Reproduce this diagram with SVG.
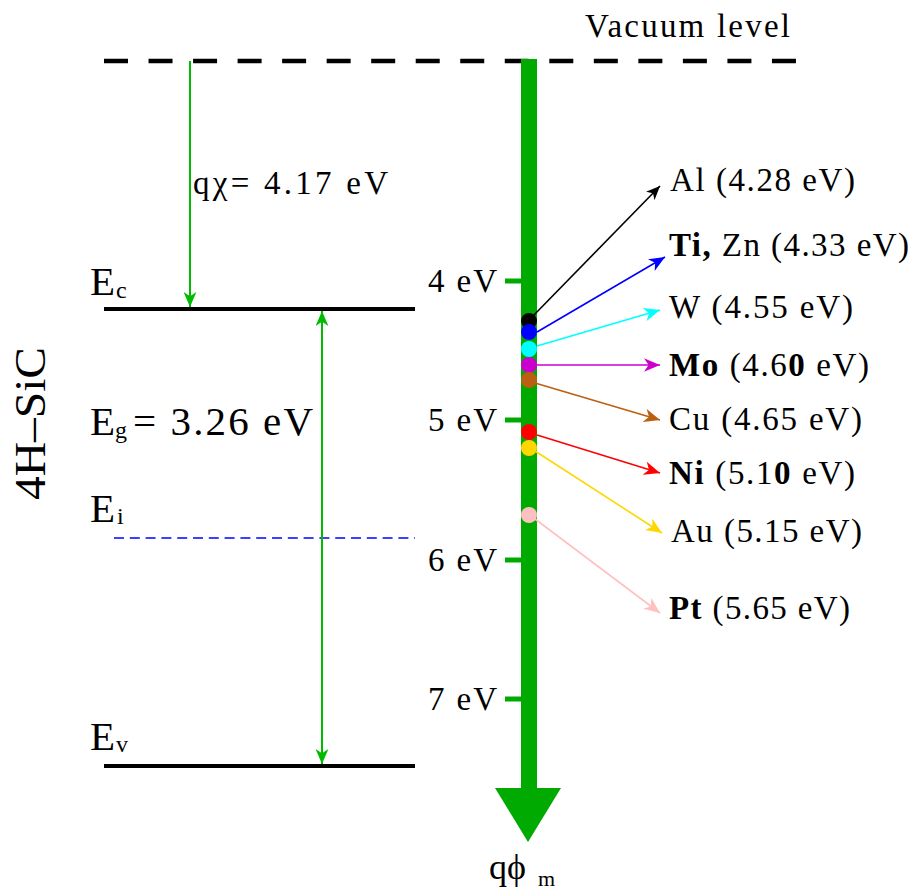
<svg xmlns="http://www.w3.org/2000/svg" width="911" height="890" viewBox="0 0 911 890">
<style>
  text { font-family: "Liberation Serif", "Times New Roman", serif; fill: #000; }
  .lbl { font-size: 33px; }
  .big { font-size: 41px; }
  .sub { font-size: 24px; }
  .b { font-weight: bold; }
  .level { stroke: #000; stroke-width: 4; fill: none; }
  .thin { stroke-width: 1.6; fill: none; }
  .g { stroke: #00bb00; stroke-width: 2; fill: none; }
  .tick { stroke: #00aa00; stroke-width: 5; }
</style>
<defs>
  <marker id="mg" viewBox="0 0 14 12" refX="14" refY="6" markerWidth="15" markerHeight="13" markerUnits="userSpaceOnUse" orient="auto-start-reverse"><path d="M0,0 L14,6 L0,12 L4,6 z" fill="#00bb00"/></marker>
  <marker id="mk" viewBox="0 0 14 12" refX="14" refY="6" markerWidth="14" markerHeight="12" markerUnits="userSpaceOnUse" orient="auto"><path d="M0,0 L14,6 L0,12 L4,6 z" fill="#000"/></marker>
  <marker id="mb" viewBox="0 0 14 12" refX="14" refY="6" markerWidth="16" markerHeight="14" markerUnits="userSpaceOnUse" orient="auto"><path d="M0,0 L14,6 L0,12 L4,6 z" fill="#0000ff"/></marker>
  <marker id="mc" viewBox="0 0 14 12" refX="14" refY="6" markerWidth="16" markerHeight="14" markerUnits="userSpaceOnUse" orient="auto"><path d="M0,0 L14,6 L0,12 L4,6 z" fill="#00ffff"/></marker>
  <marker id="mm" viewBox="0 0 14 12" refX="14" refY="6" markerWidth="16" markerHeight="14" markerUnits="userSpaceOnUse" orient="auto"><path d="M0,0 L14,6 L0,12 L4,6 z" fill="#cc00cc"/></marker>
  <marker id="mo" viewBox="0 0 14 12" refX="14" refY="6" markerWidth="16" markerHeight="14" markerUnits="userSpaceOnUse" orient="auto"><path d="M0,0 L14,6 L0,12 L4,6 z" fill="#bb6010"/></marker>
  <marker id="mr" viewBox="0 0 14 12" refX="14" refY="6" markerWidth="16" markerHeight="14" markerUnits="userSpaceOnUse" orient="auto"><path d="M0,0 L14,6 L0,12 L4,6 z" fill="#ff0000"/></marker>
  <marker id="my" viewBox="0 0 14 12" refX="14" refY="6" markerWidth="16" markerHeight="14" markerUnits="userSpaceOnUse" orient="auto"><path d="M0,0 L14,6 L0,12 L4,6 z" fill="#ffd700"/></marker>
  <marker id="mp" viewBox="0 0 14 12" refX="14" refY="6" markerWidth="16" markerHeight="14" markerUnits="userSpaceOnUse" orient="auto"><path d="M0,0 L14,6 L0,12 L4,6 z" fill="#ffc0c0"/></marker>
</defs>

<g id="vacuum">
  <line x1="104" y1="61" x2="796" y2="61" stroke="#000" stroke-width="4.5" stroke-dasharray="24 20.53"/>
  <text class="lbl" x="585" y="37" textLength="205" lengthAdjust="spacing">Vacuum level</text>
</g>

<g id="band-levels">
  <line class="level" x1="104" y1="309" x2="415" y2="309"/>
  <line class="level" x1="104" y1="766" x2="415" y2="766"/>
  <line x1="114" y1="538" x2="415" y2="538" stroke="#0000ff" stroke-width="1.6" stroke-dasharray="10 5.8"/>
  <text class="big" x="90" y="295">E<tspan class="sub" x="116" y="298">c</tspan></text>
  <text class="big" x="90" y="435">E<tspan class="sub" x="115" y="438">g</tspan><tspan x="133" y="435" textLength="180" lengthAdjust="spacing">= 3.26 eV</tspan></text>
  <text class="big" x="90" y="522">E<tspan class="sub" x="117" y="524">i</tspan></text>
  <text class="big" x="90" y="750">E<tspan class="sub" x="116" y="752">v</tspan></text>
  <text transform="translate(45,500) rotate(-90)" x="0" y="0" font-size="44" textLength="153" lengthAdjust="spacingAndGlyphs">4H–SiC</text>
  <text class="lbl" x="193" y="194" textLength="195" lengthAdjust="spacing">qχ= 4.17 eV</text>
</g>

<g id="scale">
  <rect x="521" y="59" width="16" height="732" fill="#00aa00"/>
  <polygon points="495,788 561,788 528,842" fill="#00aa00"/>
  <line class="tick" x1="505" y1="281" x2="522" y2="281"/>
  <line class="tick" x1="505" y1="420" x2="522" y2="420"/>
  <line class="tick" x1="505" y1="560" x2="522" y2="560"/>
  <line class="tick" x1="505" y1="699" x2="522" y2="699"/>
  <text class="lbl" x="428" y="292" textLength="69" lengthAdjust="spacing">4 eV</text>
  <text class="lbl" x="428" y="431" textLength="69" lengthAdjust="spacing">5 eV</text>
  <text class="lbl" x="428" y="571" textLength="69" lengthAdjust="spacing">6 eV</text>
  <text class="lbl" x="428" y="710" textLength="69" lengthAdjust="spacing">7 eV</text>
  <text x="489" y="879" font-size="36">qϕ<tspan x="538" y="886" font-size="22">m</tspan></text>
</g>

<g id="connectors">
  <line class="g" x1="190" y1="61" x2="190" y2="307" marker-end="url(#mg)"/>
  <line class="g" x1="322" y1="311" x2="322" y2="764" marker-start="url(#mg)" marker-end="url(#mg)"/>
  <line class="thin" stroke="#000" x1="533" y1="316" x2="660" y2="186" marker-end="url(#mk)"/>
  <line class="thin" stroke="#0000ff" x1="537" y1="332" x2="665" y2="257" marker-end="url(#mb)"/>
  <line class="thin" stroke="#00ffff" x1="537" y1="346" x2="660" y2="310" marker-end="url(#mc)"/>
  <line class="thin" stroke="#cc00cc" x1="537" y1="365" x2="660" y2="365" marker-end="url(#mm)"/>
  <line class="thin" stroke="#bb6010" x1="535" y1="383" x2="660" y2="420" marker-end="url(#mo)"/>
  <line class="thin" stroke="#ff0000" x1="537" y1="435" x2="660" y2="473" marker-end="url(#mr)"/>
  <line class="thin" stroke="#ffd700" x1="535" y1="451" x2="662" y2="533" marker-end="url(#my)"/>
  <line class="thin" stroke="#ffc0c0" x1="535" y1="519" x2="660" y2="613" marker-end="url(#mp)"/>
</g>

<g id="metal-Al"><circle cx="529" cy="321" r="8" fill="#000"/><text class="lbl" x="670" y="191" textLength="185" lengthAdjust="spacing">Al (4.28 eV)</text></g>
<g id="metal-TiZn"><circle cx="529" cy="332" r="8" fill="#0000ff"/><text class="lbl" x="669" y="256" textLength="240" lengthAdjust="spacing"><tspan class="b">Ti,</tspan> Zn (4.33 eV)</text></g>
<g id="metal-W"><circle cx="529" cy="349" r="8" fill="#00ffff"/><text class="lbl" x="669" y="318" textLength="184" lengthAdjust="spacing">W (4.55 eV)</text></g>
<g id="metal-Mo"><circle cx="529" cy="365" r="8" fill="#cc00cc"/><text class="lbl" x="669" y="376" textLength="200" lengthAdjust="spacing"><tspan class="b">Mo</tspan> (4.6<tspan class="b">0</tspan> eV)</text></g>
<g id="metal-Cu"><circle cx="529" cy="380" r="8" fill="#bb6010"/><text class="lbl" x="669" y="430" textLength="193" lengthAdjust="spacing">Cu (4.65 eV)</text></g>
<g id="metal-Ni"><circle cx="529" cy="432" r="8" fill="#ff0000"/><text class="lbl" x="669" y="484" textLength="186" lengthAdjust="spacing"><tspan class="b">Ni</tspan> (5.1<tspan class="b">0</tspan> eV)</text></g>
<g id="metal-Au"><circle cx="529" cy="448" r="8" fill="#ffd700"/><text class="lbl" x="671" y="542" textLength="191" lengthAdjust="spacing">Au (5.15 eV)</text></g>
<g id="metal-Pt"><circle cx="529" cy="515" r="8" fill="#ffc0c0"/><text class="lbl" x="669" y="619" textLength="181" lengthAdjust="spacing"><tspan class="b">Pt</tspan> (5.65 eV)</text></g>
</svg>
